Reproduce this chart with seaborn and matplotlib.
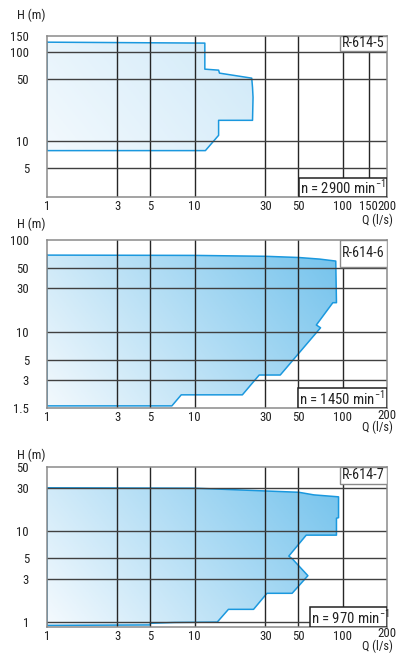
import numpy as np
import matplotlib
matplotlib.use("Agg")
import matplotlib.pyplot as plt
import matplotlib.transforms as mtransforms
import seaborn as sns
from matplotlib.colors import LinearSegmentedColormap
from matplotlib import font_manager

sns.set_theme(style="white")
available = {f.name for f in font_manager.fontManager.ttflist}
chosen = None
for cand in ["Roboto Condensed", "Liberation Sans Narrow", "Open Sans Condensed", "Roboto", "Liberation Sans"]:
    if cand in available:
        chosen = cand
        break
plt.rcParams['font.family'] = [chosen, 'DejaVu Sans'] if chosen else ['DejaVu Sans']
narrow = chosen in ("Roboto Condensed", "Liberation Sans Narrow", "Open Sans Condensed")
k = 1.0 if narrow else 0.87
fs = 9.2 * k
fs_q = 8.8 * k
fs_name = 10.2 * k
fs_n = 10.6 * k

# ---- data ----
names = ["R-614-5", "R-614-6", "R-614-7"]
speeds = ["n = 2900 min", "n = 1450 min", "n = 970 min"]

q5 = [1, 11.7, 11.7, 14.5, 14.7, 24.3, 24.6, 24.8, 24.6, 14.5, 14.5, 11.8, 1]
h5 = [128, 125, 64, 62.4, 57.8, 50.8, 40, 31, 17.2, 17.2, 11.7, 7.9, 7.9]

q6 = [1, 10, 30, 50.6, 70, 90, 91, 86, 66.5, 71, 37.9, 27.3, 21, 8.1, 7.0, 1]
h6 = [68.5, 68, 66.5, 64.5, 62, 59, 20.8, 20.8, 11.9, 11.1, 3.4, 3.4, 2.07, 2.07, 1.57, 1.57]

q7 = [1, 10, 30, 50.6, 64, 94, 94, 91, 91, 56.8, 43.3, 46, 58.3, 45.6, 30.8, 25, 16.9, 14.2, 7.3, 5, 5, 1]
h7 = [29.8, 29.5, 27.5, 26.6, 24.9, 23.7, 14, 13.8, 9, 9, 5.3, 4.9, 3.23, 2.07, 2.07, 1.38, 1.38, 1.0, 0.99, 0.97, 0.93, 0.92]

q_data = [q5, q6, q7]
h_data = [h5, h6, h7]

ylims = [(2.4, 150), (1.5, 100), (0.89, 50)]
yticks = [[5, 10, 50, 100, 150], [1.5, 3, 5, 10, 30, 50, 100], [1, 3, 5, 10, 30, 50]]
ygrid = [[5, 10, 50, 100], [3, 5, 10, 30, 50], [1, 3, 5, 10, 30]]
xticks = [[1, 3, 5, 10, 30, 50, 100, 150, 200], [1, 3, 5, 10, 30, 50, 100, 200], [1, 3, 5, 10, 30, 50, 100, 200]]
xgrid = [[3, 5, 10, 30, 50, 100, 150], [3, 5, 10, 30, 50, 100], [3, 5, 10, 30, 50, 100]]

# ---- layout (pixels) ----
W, H = 406, 653
boxes = [(47, 387, 36, 197), (47, 387, 240, 407.7), (47, 387, 467.3, 626.7)]
grad = [("#f7fbfe", "#bfe2f6"), ("#f3f9fd", "#62bbea"), ("#f5fafe", "#62bbea")]
nbox_left = [299, 298, 310]
namebox_bottom = [50.7, 266.7, 483.5]
h_label_y = [15, 224, 455]
q_label_bottom = [227.5, 434.5, 652.8]
x200_raise = [0, 2, 3.5]

fig = plt.figure(figsize=(W / 100, H / 100), dpi=100)
edge = "#1a98de"

for i in range(3):
    l, r, t, b = boxes[i]
    ax = fig.add_axes([l / W, 1 - b / H, (r - l) / W, (b - t) / H])
    ax.set_xscale("log")
    ax.set_yscale("log")
    ax.set_xlim(1, 200)
    ax.set_ylim(*ylims[i])
    poly = ax.fill(q_data[i], h_data[i], facecolor="none", edgecolor="none", zorder=2)[0]
    cmap = LinearSegmentedColormap.from_list("g", list(grad[i]))
    xx, yy = np.meshgrid(np.linspace(0, 1, 200), np.linspace(0, 1, 200))
    img = ax.imshow((xx * 0.72 + yy * 0.28), cmap=cmap, extent=[0, 1, 0, 1],
                    transform=ax.transAxes, origin="lower", aspect="auto", zorder=2,
                    interpolation="bilinear")
    img.set_clip_path(poly)
    ax.plot(q_data[i] + [q_data[i][0]], h_data[i] + [h_data[i][0]], color=edge, lw=1.1, zorder=3)
    for g in xgrid[i]:
        ax.axvline(g, color="#262626", lw=1.0, zorder=4)
    for g in ygrid[i]:
        ax.axhline(g, color="#404040", lw=1.0, zorder=4)

    ax.set_xticks(xticks[i])
    ax.set_xticklabels([str(v) for v in xticks[i]])
    ax.set_yticks(yticks[i])
    ax.set_yticklabels([str(v) for v in yticks[i]])
    ax.minorticks_off()
    ax.tick_params(axis="y", labelsize=fs, colors="#222222", length=4, width=1, pad=9)
    ax.tick_params(axis="x", labelsize=fs, colors="#222222", length=0, pad=2.5)
    if x200_raise[i]:
        lbl = ax.get_xticklabels()[-1]
        lbl.set_transform(lbl.get_transform() +
                          mtransforms.ScaledTranslation(0, x200_raise[i] / 100, fig.dpi_scale_trans))
    for s in ax.spines.values():
        s.set_color("#8a8a8a")
        s.set_linewidth(1.1)
        s.set_zorder(5)

    # name box
    nb = namebox_bottom[i]
    rect_y0 = 1 - (nb - t) / (b - t)
    ax.add_patch(plt.Rectangle(((340 - l) / (r - l), rect_y0), (r - 340) / (r - l), 1 - rect_y0,
                               transform=ax.transAxes, facecolor="white", edgecolor="#8a8a8a",
                               lw=1.0, zorder=6))
    ax.text(1 - 2 / (r - l), 1 - (nb - t) / 2 / (b - t), names[i], transform=ax.transAxes,
            ha="right", va="center", fontsize=fs_name, color="#222222", zorder=7)
    # speed box
    nl = nbox_left[i]
    ax.add_patch(plt.Rectangle(((nl - l) / (r - l), 0), (r - nl) / (r - l), 19.5 / (b - t),
                               transform=ax.transAxes, facecolor="white", edgecolor="#222222",
                               lw=1.1, zorder=6))
    ax.text((nl + 1.5 - l) / (r - l), 9.5 / (b - t), speeds[i] + "$^{\\mathregular{-1}}$",
            transform=ax.transAxes, ha="left", va="center", fontsize=fs_n, color="#222222", zorder=7)

    fig.text(17 / W, 1 - h_label_y[i] / H, "H (m)", ha="left", va="center", fontsize=fs, color="#222222")
    fig.text(393 / W, 1 - q_label_bottom[i] / H, "Q (l/s)", ha="right", va="bottom", fontsize=fs_q, color="#222222")

fig.savefig("out.png", dpi=100)
